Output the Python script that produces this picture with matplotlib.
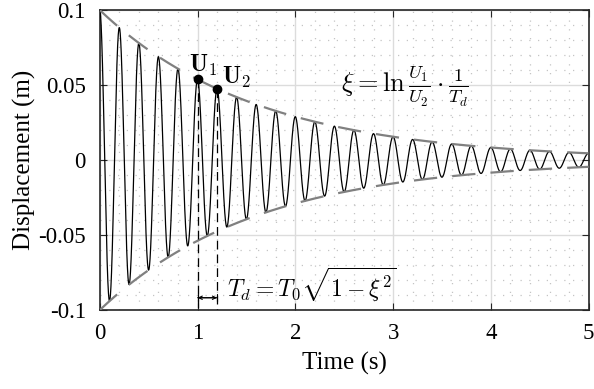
import numpy as np
import matplotlib
matplotlib.use("Agg")
import matplotlib.pyplot as plt
from matplotlib.ticker import MultipleLocator

plt.rcParams['font.family'] = ['Liberation Serif', 'DejaVu Serif']
plt.rcParams['mathtext.fontset'] = 'cm'

# values
amp0 = 0.1        # initial displacement (m)
decay = 0.62      # envelope decay rate (1/s)
period = 0.2      # damped period Td (s)
t_end = 5.0
t_u1 = 1.0
t_u2 = 1.2

xticks = [0, 1, 2, 3, 4, 5]
yticks = [-0.1, -0.05, 0, 0.05, 0.1]
yticklabels = ['-0.1', '-0.05', '0', '0.05', '0.1']

t = np.linspace(0, t_end, 4000)
env = amp0 * np.exp(-decay * t)
disp = env * np.cos(2 * np.pi * t / period)
u1 = amp0 * np.exp(-decay * t_u1)
u2 = amp0 * np.exp(-decay * t_u2)

fig = plt.figure(figsize=(5.94, 3.89), dpi=100)
ax = fig.add_axes([0.168, 0.203, 0.823, 0.771])

ax.plot(t, disp, color='k', lw=0.9, zorder=3)
ax.plot(t, env, color='#808080', lw=1.6, dashes=(10.5, 6.8), zorder=4)
ax.plot(t, -env, color='#808080', lw=1.6, dashes=(10.5, 6.8), zorder=4)

ax.plot([t_u1, t_u2], [u1, u2], 'o', color='k', ms=6, zorder=5)
ax.plot([t_u1, t_u1], [u1, -0.1], color='k', lw=0.9, dashes=(7, 4), zorder=4)
ax.plot([t_u2, t_u2], [u2, -0.1], color='k', lw=0.9, dashes=(7, 4), zorder=4)
ax.annotate('', xy=(t_u1, -0.0918), xytext=(t_u2, -0.0918),
            arrowprops=dict(arrowstyle='|-|,widthA=0.25,widthB=0.25', lw=0.8, color='k',
                            shrinkA=0, shrinkB=0))
ax.annotate('', xy=(t_u1, -0.0918), xytext=(t_u2, -0.0918),
            arrowprops=dict(arrowstyle='<->,head_length=0.25,head_width=0.12', lw=0.8,
                            color='k', shrinkA=0, shrinkB=0))

ax.text(0.91, 0.0545, r'$\mathbf{U}_1$', fontsize=17, ha='left', va='bottom')
ax.text(1.25, 0.0465, r'$\mathbf{U}_2$', fontsize=17, ha='left', va='bottom')
ax.text(1.3, -0.0835, r'$T_d = T_0\sqrt{1-\xi^2}$', fontsize=17, ha='left', va='center')
ax.text(2.47, 0.049, r'$\xi = \ln\frac{U_1}{U_2}\cdot\frac{1}{T_d}$', fontsize=19,
        ha='left', va='center')

ax.set_xlim(0, t_end)
ax.set_ylim(-0.1, 0.1)
ax.set_xticks(xticks)
ax.set_yticks(yticks)
ax.set_yticklabels(yticklabels)
ax.xaxis.set_minor_locator(MultipleLocator(0.2))
ax.yaxis.set_minor_locator(MultipleLocator(0.01))
ax.grid(which='major', color='#dcdcdc', lw=1)
ax.grid(which='minor', color='#c4c4c4', lw=0.9, linestyle=(0, (1, 6)))
ax.set_axisbelow(True)
ax.tick_params(which='major', direction='in', length=5, top=True, right=True,
               labelsize=16.5, color='#262626')
ax.tick_params(axis='x', pad=9)
ax.tick_params(axis='y', pad=10)
ax.tick_params(which='minor', length=0)
for s in ax.spines.values():
    s.set_color('#262626')
    s.set_linewidth(1.2)

ax.set_xlabel('Time (s)', fontsize=18, labelpad=6)
ax.set_ylabel('Displacement (m)', fontsize=18, labelpad=2)

fig.savefig('out.png', dpi=100)
